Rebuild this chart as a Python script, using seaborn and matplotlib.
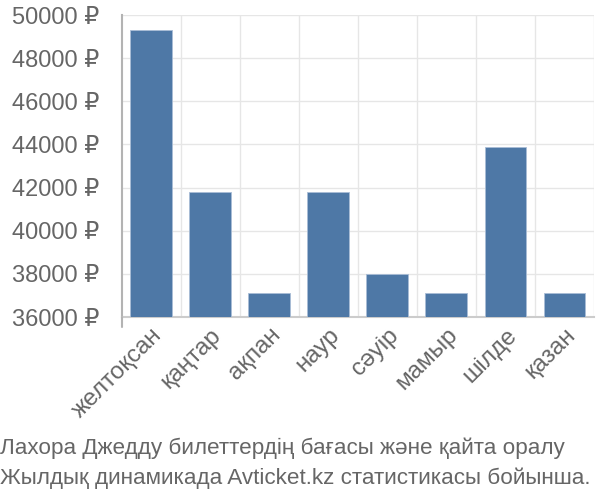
import matplotlib
matplotlib.use("Agg")
import matplotlib.pyplot as plt
import seaborn as sns
import pandas as pd
import numpy as np

# Data
months = ["желтоқсан", "қаңтар", "ақпан", "наур", "сәуір", "мамыр", "шілде", "қазан"]
prices = [49300, 41800, 37100, 41800, 38000, 37100, 43900, 37100]
yticks = [36000, 38000, 40000, 42000, 44000, 46000, 48000, 50000]
caption = ["Лахора Джедду билеттердің бағасы және қайта оралу",
           "Жылдық динамикада Avticket.kz статистикасы бойынша."]

df = pd.DataFrame({"month": months, "price": prices})

sns.set_style("white")
plt.rcParams["font.family"] = ["Liberation Sans", "DejaVu Sans"]

fig = plt.figure(figsize=(6, 5), dpi=100)
ax = fig.add_axes([0.203, 0.366, 0.787, 0.604])

grid = "#e6e6e6"
text = "#666666"

sns.barplot(data=df, x="month", y="price", color="#4e78a6", width=0.71,
            edgecolor="#a9bdd6", linewidth=0.6, saturation=1, ax=ax, zorder=3)

ax.set_ylim(36000, 50000)
ax.set_xlim(-0.5, len(months) - 0.5)
ax.set_yticks(yticks)
ax.set_yticklabels([f"{v} ₽" for v in yticks])
ax.set_xlabel("")
ax.set_ylabel("")

for v in yticks:
    ax.axhline(v, color=grid, lw=1, zorder=1)
bounds = np.arange(len(months) + 1) - 0.5
for b in bounds[1:]:
    ax.axvline(b, color=grid, lw=1, zorder=1)

ax.set_xticks(bounds, minor=True)
ax.tick_params(axis="x", which="minor", length=14, color=grid, width=1)
ax.tick_params(axis="x", which="major", length=0, pad=5, labelsize=17.5, labelcolor=text)
ax.tick_params(axis="y", length=14, color=grid, width=1, labelsize=17, labelcolor=text, pad=2)
plt.setp(ax.get_xticklabels(), rotation=45, ha="right", rotation_mode="anchor")

for s in ["top", "right"]:
    ax.spines[s].set_visible(False)
ax.spines["left"].set_color("#b3b3b3")
ax.spines["left"].set_linewidth(1.5)
ax.spines["left"].set_bounds(36000, 50000)
ax.spines["bottom"].set_color("#cccccc")
ax.spines["bottom"].set_linewidth(1.5)
# y axis line continues a bit below the plot
ax.plot([-0.5, -0.5], [36000, 35540], color="#b3b3b3", lw=1.5, clip_on=False, zorder=4)

fig.text(0.0, 0.104, caption[0], fontsize=16.2, color=text, va="center")
fig.text(0.0, 0.044, caption[1], fontsize=16.2, color=text, va="center")

fig.savefig("out.png", dpi=100)
